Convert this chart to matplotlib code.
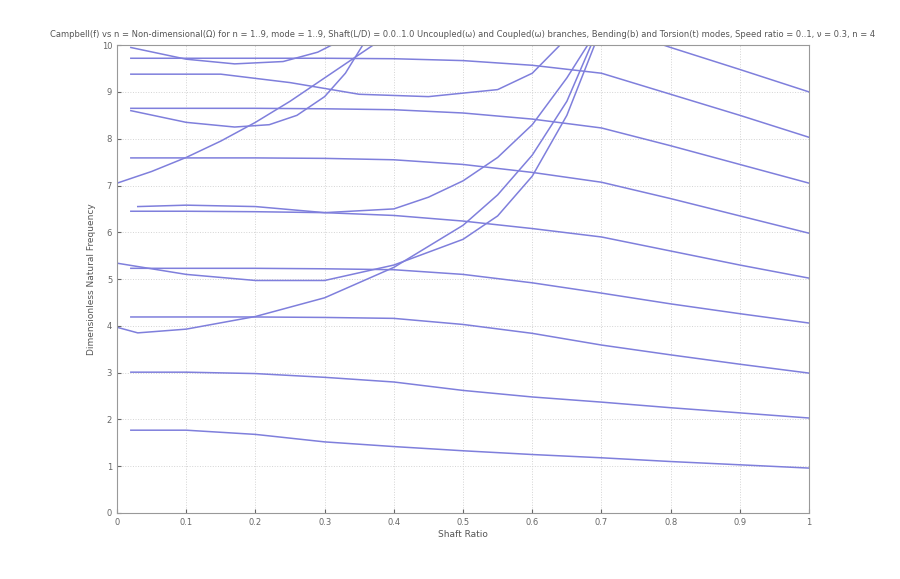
import numpy as np
import matplotlib.pyplot as plt

# descending modes: flat at the left, falling off towards the right
x_modes = [0.02, 0.1, 0.2, 0.3, 0.4, 0.5, 0.6, 0.7, 0.8, 0.9, 1.0]
mode1 = [10.85, 10.85, 10.85, 10.84, 10.82, 10.77, 10.65, 10.45, 9.95, 9.48, 9.0]
mode2 = [9.72, 9.72, 9.72, 9.72, 9.71, 9.67, 9.57, 9.40, 8.95, 8.50, 8.03]
mode3 = [8.65, 8.65, 8.65, 8.64, 8.62, 8.55, 8.42, 8.23, 7.85, 7.45, 7.05]
mode4 = [7.59, 7.59, 7.59, 7.58, 7.55, 7.45, 7.28, 7.07, 6.72, 6.35, 5.98]
mode5 = [6.45, 6.45, 6.44, 6.42, 6.36, 6.24, 6.08, 5.90, 5.60, 5.30, 5.02]
mode6 = [5.23, 5.23, 5.23, 5.22, 5.20, 5.10, 4.92, 4.70, 4.47, 4.26, 4.06]
mode7 = [4.19, 4.19, 4.19, 4.18, 4.16, 4.03, 3.84, 3.59, 3.38, 3.18, 2.99]
mode8 = [3.01, 3.01, 2.98, 2.90, 2.80, 2.62, 2.48, 2.37, 2.25, 2.14, 2.03]
mode9 = [1.77, 1.77, 1.68, 1.52, 1.42, 1.33, 1.25, 1.18, 1.10, 1.03, 0.96]

# rising branches
xa = [0.0, 0.03, 0.1, 0.2, 0.3, 0.4, 0.5, 0.55, 0.6, 0.65, 0.685]
ya = [3.97, 3.85, 3.93, 4.2, 4.6, 5.25, 6.15, 6.8, 7.65, 8.8, 10.0]
xb = [0.0, 0.05, 0.1, 0.2, 0.3, 0.4, 0.5, 0.55, 0.6, 0.65, 0.69]
yb = [5.34, 5.22, 5.1, 4.97, 4.97, 5.3, 5.85, 6.35, 7.2, 8.5, 10.0]
xc = [0.03, 0.1, 0.2, 0.3, 0.4, 0.45, 0.5, 0.55, 0.6, 0.65, 0.68]
yc = [6.55, 6.58, 6.55, 6.42, 6.5, 6.75, 7.1, 7.6, 8.3, 9.3, 10.0]
xd = [0.0, 0.05, 0.1, 0.15, 0.2, 0.25, 0.3, 0.35, 0.37]
yd = [7.05, 7.3, 7.6, 7.95, 8.35, 8.8, 9.3, 9.8, 10.0]
xe = [0.02, 0.1, 0.17, 0.22, 0.26, 0.3, 0.33, 0.355]
ye = [8.6, 8.35, 8.25, 8.3, 8.5, 8.9, 9.4, 10.0]
xf = [0.02, 0.1, 0.17, 0.24, 0.29, 0.31]
yf = [9.95, 9.7, 9.6, 9.65, 9.85, 10.0]
xg = [0.02, 0.15, 0.25, 0.35, 0.45, 0.55, 0.6, 0.64]
yg = [9.38, 9.38, 9.2, 8.95, 8.9, 9.05, 9.4, 10.0]

modes = [mode1, mode2, mode3, mode4, mode5, mode6, mode7, mode8, mode9]
branches = [(xa, ya), (xb, yb), (xc, yc), (xd, yd), (xe, ye), (xf, yf), (xg, yg)]

col = '#7f7fdc'
fig = plt.figure(figsize=(9, 5.79), dpi=100)
ax = fig.add_axes([0.13, 0.114, 0.769, 0.808])

for m in modes:
    ax.plot(x_modes, m, color=col, lw=1.1)
for bx, by in branches:
    ax.plot(bx, by, color=col, lw=1.1)

ax.set_xlim(0, 1)
ax.set_ylim(0, 10)
ax.set_xticks(np.arange(0, 1.01, 0.1))
ax.set_xticklabels(['0', '0.1', '0.2', '0.3', '0.4', '0.5', '0.6', '0.7', '0.8', '0.9', '1'])
ax.set_yticks(range(0, 11))
ax.tick_params(labelsize=6, direction='in', length=3, colors='#666666')
ax.grid(True, linestyle=':', color='#d4d4d4', lw=0.7)
for s in ax.spines.values():
    s.set_color('#999999')

ax.set_xlabel('Shaft Ratio', fontsize=6.5, color='#555555', labelpad=2)
ax.set_ylabel('Dimensionless Natural Frequency', fontsize=6.5, color='#555555')
ax.set_title('Campbell(f) vs n = Non-dimensional(Ω) for n = 1..9, mode = 1..9, Shaft(L/D) = 0.0..1.0 '
             'Uncoupled(ω) and Coupled(ω) branches, Bending(b) and Torsion(t) modes, Speed ratio = 0..1, ν = 0.3, n = 4',
             fontsize=6, color='#555555', pad=6)

fig.savefig('out.png', dpi=100)
